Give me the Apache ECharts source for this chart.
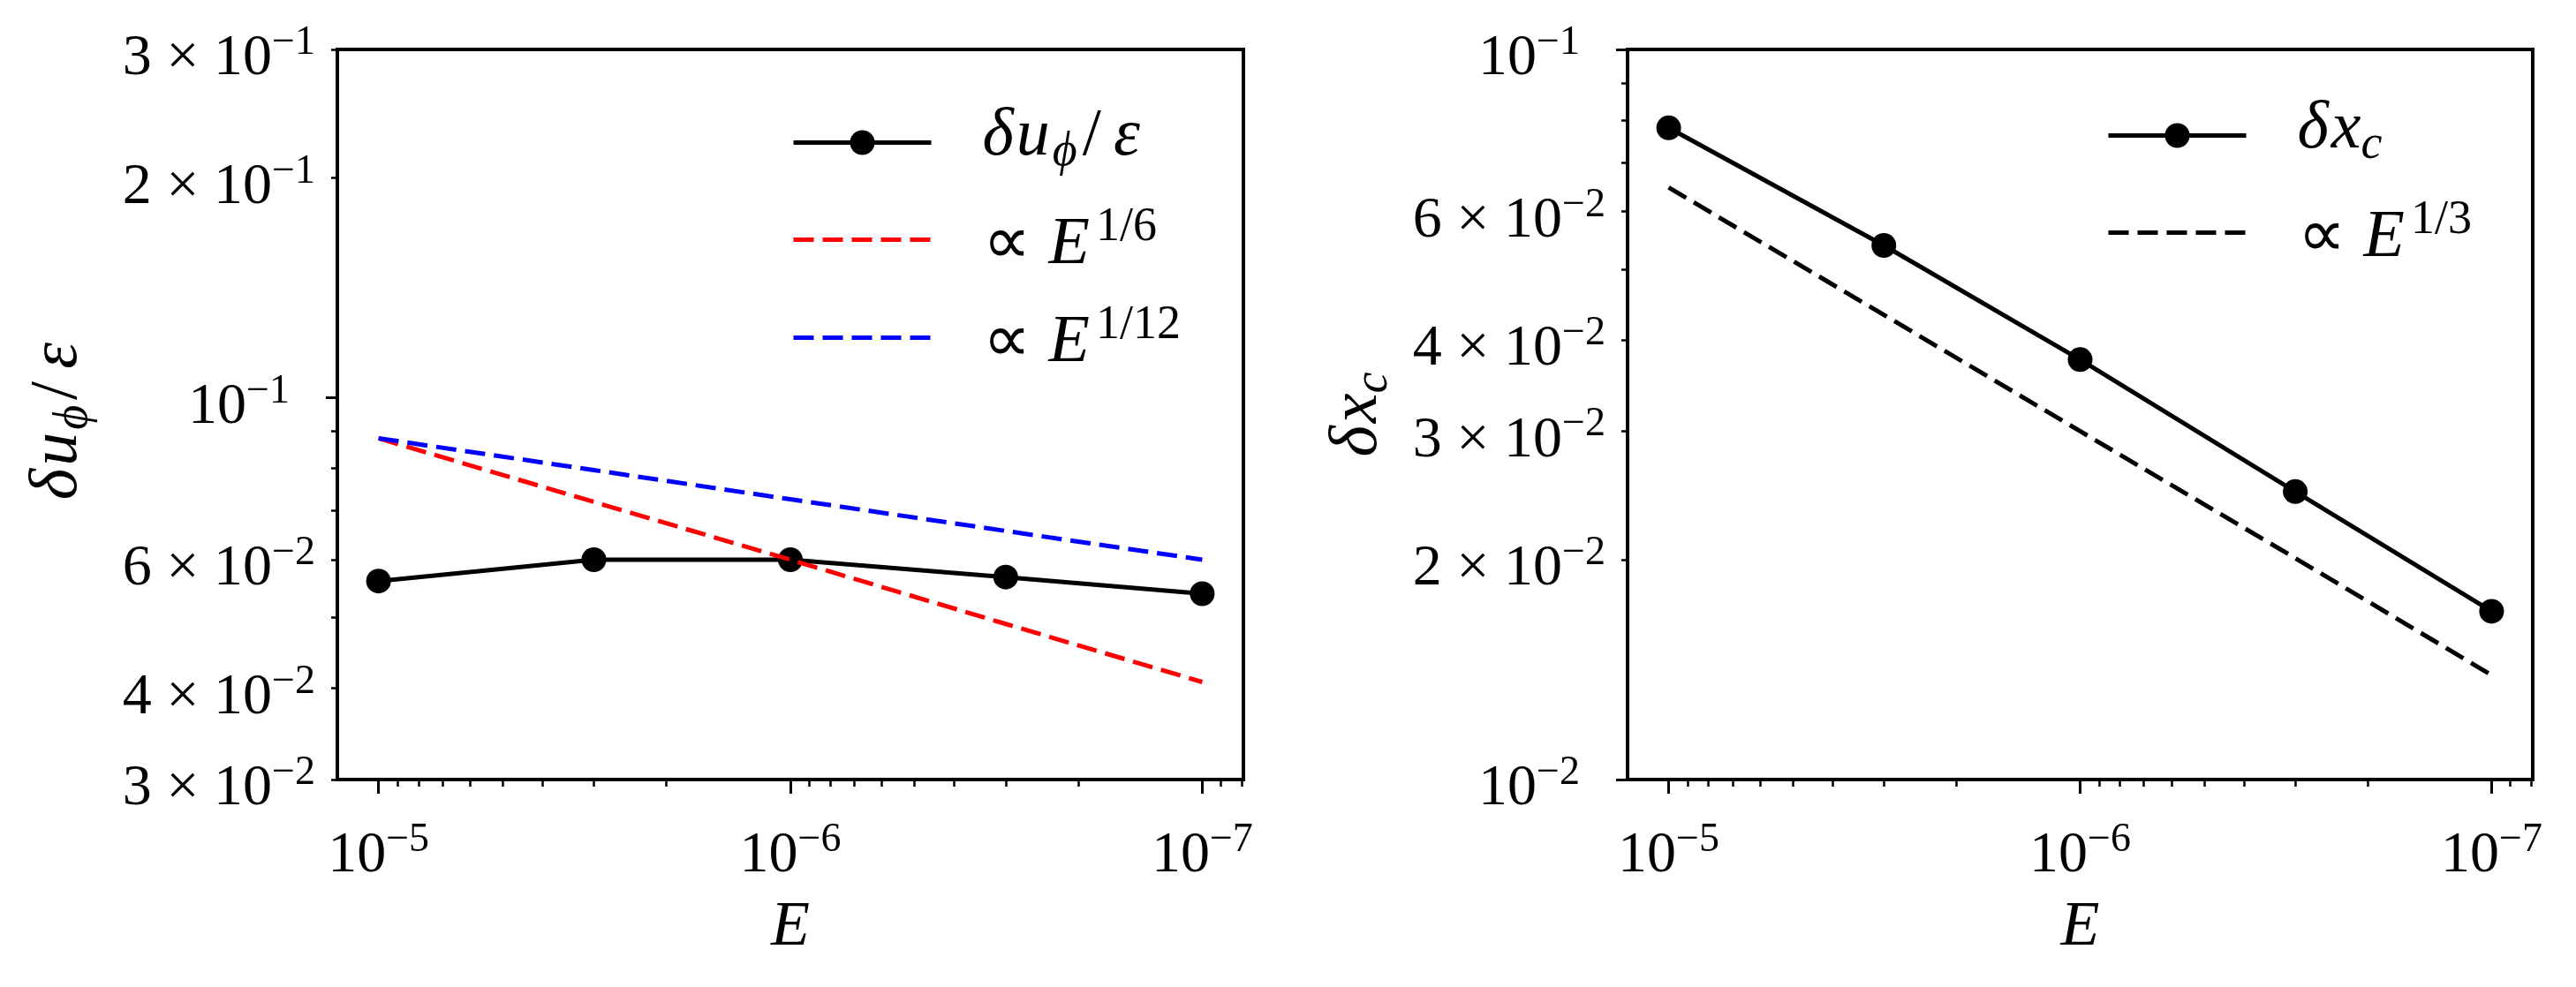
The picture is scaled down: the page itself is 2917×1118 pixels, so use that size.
<!DOCTYPE html>
<html>
<head>
<meta charset="utf-8">
<script src="https://cdn.jsdelivr.net/npm/echarts@6/dist/echarts.min.js"></script>
<style>
html,body{margin:0;padding:0;background:#fff;}
#chart{width:2917px;height:1118px;}
</style>
</head>
<body>
<div id="chart"></div>
<script>
// ---------------- data ----------------
const E = [1e-5, 3e-6, 1e-6, 3e-7, 1e-7];
const duPhi = [0.0561, 0.0600, 0.0600, 0.0568, 0.0539];
const fitE16 = [0.0880, 0.0720, 0.0600, 0.0490, 0.0408];
const fitE112 = [0.0880, 0.0796, 0.0726, 0.0657, 0.0600];
const dxc = [0.0781, 0.0539, 0.0376, 0.0248, 0.0170];
const fitE13 = [0.0647, 0.0433, 0.0300, 0.0201, 0.0139];

const xMajorTicks = [1e-5, 1e-6, 1e-7];
const xTickLabels = ['10^−5', '10^−6', '10^−7'];
const xMinorTicks = [9e-6, 8e-6, 7e-6, 6e-6, 5e-6, 4e-6, 3e-6, 2e-6,
                     9e-7, 8e-7, 7e-7, 6e-7, 5e-7, 4e-7, 3e-7, 2e-7, 9e-8, 8e-8];

const leftYMajorTicks = [0.1];
const leftYMinorTicks = [0.03, 0.04, 0.05, 0.06, 0.07, 0.08, 0.09, 0.2, 0.3];
const leftYLabelValues = [0.03, 0.04, 0.06, 0.1, 0.2, 0.3];
const leftYLabels = ['3 × 10^−2', '4 × 10^−2', '6 × 10^−2', '10^−1', '2 × 10^−1', '3 × 10^−1'];

const rightYMajorTicks = [0.01, 0.1];
const rightYMinorTicks = [0.02, 0.03, 0.04, 0.05, 0.06, 0.07, 0.08, 0.09];
const rightYLabelValues = [0.01, 0.02, 0.03, 0.04, 0.06, 0.1];
const rightYLabels = ['10^−2', '2 × 10^−2', '3 × 10^−2', '4 × 10^−2', '6 × 10^−2', '10^−1'];

const seriesNames = ['δuϕ/ε', '∝ E1/6', '∝ E1/12', 'δxc', '∝ E1/3'];
const legendRichText = {
  'δuϕ/ε': '{gA| }{m|δ}{m|u}{sub|ϕ}{r|/}{m|ε}',
  '∝ E1/6': '{gB| }{r0|∝ }{m|E}{sup|1/6}',
  '∝ E1/12': '{gB| }{r0|∝ }{m|E}{sup|1/12}',
  'δxc': '{gA| }{m|δ}{m0|x}{sub0|c}',
  '∝ E1/3': '{gB| }{r0|∝ }{m|E}{sup|1/3}'
};
const leftYName = '{m|δ}{m|u}{sub|ϕ}{r|/}{m|ε}{e| }';
const rightYName = '{m|δ}{m0|x}{sub0|c}';

// ---------------- helpers ----------------
const SERIF = 'Liberation Serif';
function pairs(xs, ys) { return xs.map((x, i) => [x, ys[i]]); }
function findLabel(value, values, labels) {
  for (let i = 0; i < values.length; i++) {
    if (Math.abs(Math.log10(value / values[i])) < 1e-6) return labels[i];
  }
  return '';
}
function richTick(lbl, isY) {
  const parts = lbl.split('^');
  const pure = parts[0] === '10';
  return '{b|' + parts[0] + '}{s|' + parts[1] + '}' + (isY && pure ? '{sp| }' : '');
}
const tickRich = {
  b: {fontFamily: SERIF, fontSize: 66, lineHeight: 66, color: '#000', verticalAlign: 'top', padding: [11, 0, 0, 0]},
  s: {fontFamily: SERIF, fontSize: 46, lineHeight: 46, color: '#000', verticalAlign: 'top', padding: [3, 0, 0, 0]},
  sp: {fontFamily: SERIF, fontSize: 46, lineHeight: 46, width: 29}
};
function mathRich(T, lh) {
  const F = 76, f = 54;
  return {
    gA: {fontFamily: SERIF, fontSize: F, lineHeight: 125, width: 53, verticalAlign: 'top'},
    gB: {fontFamily: SERIF, fontSize: F, lineHeight: 99, width: 53, verticalAlign: 'top'},
    e:  {fontFamily: SERIF, fontSize: F, lineHeight: lh, width: 12, verticalAlign: 'top'},
    m:  {fontFamily: SERIF, fontStyle: 'italic', fontSize: F, lineHeight: lh, color: '#000', verticalAlign: 'top', padding: [T, 3, 0, 0]},
    m0: {fontFamily: SERIF, fontStyle: 'italic', fontSize: F, lineHeight: lh, color: '#000', verticalAlign: 'top', padding: [T, 0, 0, 0]},
    r:  {fontFamily: SERIF, fontSize: F, lineHeight: lh, color: '#000', verticalAlign: 'top', padding: [T, 14, 0, 0]},
    r0: {fontFamily: SERIF, fontSize: F, lineHeight: lh, color: '#000', verticalAlign: 'top', padding: [T, 2, 0, 0]},
    sup: {fontFamily: SERIF, fontSize: f, lineHeight: 1, color: '#000', verticalAlign: 'top', padding: [T - 9.5, 0, 0, 4]},
    sub: {fontFamily: SERIF, fontStyle: 'italic', fontSize: f, lineHeight: 1, color: '#000', verticalAlign: 'top', padding: [T + 28.5, 6, 0, 0]},
    sub0: {fontFamily: SERIF, fontStyle: 'italic', fontSize: f, lineHeight: 1, color: '#000', verticalAlign: 'top', padding: [T + 28.5, 0, 0, 0]}
  };
}
const legendRich = mathRich(18.5, 1);
const nameRich = mathRich(10, 72);

const XMIN = Math.pow(10, -7.1), XMAX = Math.pow(10, -4.9);

function xAxesFor(g) {
  return [
    {type: 'log', logBase: 10, gridIndex: g, position: 'bottom', inverse: true, min: XMIN, max: XMAX,
     axisLine: {show: false}, splitLine: {show: false}, minorTick: {show: false},
     axisTick: {show: true, inside: false, customValues: xMajorTicks, length: 16, lineStyle: {color: '#000', width: 3}},
     axisLabel: {show: true, customValues: xMajorTicks, margin: 43, color: '#000',
       formatter: v => richTick(findLabel(v, xMajorTicks, xTickLabels), false), rich: tickRich},
     name: 'E', nameLocation: 'middle', nameGap: 132, nameMoveOverlap: false,
     nameTextStyle: {fontFamily: SERIF, fontStyle: 'italic', fontSize: 72, color: '#000'}},
    {type: 'log', logBase: 10, gridIndex: g, position: 'bottom', inverse: true, min: XMIN, max: XMAX,
     axisLine: {show: false}, splitLine: {show: false}, axisLabel: {show: false},
     axisTick: {show: true, inside: false, customValues: xMinorTicks, length: 8, lineStyle: {color: '#000', width: 2.5}}}
  ];
}
function yAxesFor(g, ymin, ymax, major, minor, lv, lb, nm, gap) {
  return [
    {type: 'log', logBase: 10, gridIndex: g, position: 'left', min: ymin, max: ymax,
     axisLine: {show: false}, splitLine: {show: false}, minorTick: {show: false},
     axisTick: {show: true, inside: false, customValues: major, length: 13, lineStyle: {color: '#000', width: 3}},
     axisLabel: {show: true, customValues: lv, margin: 25, color: '#000',
       formatter: v => richTick(findLabel(v, lv, lb), true), rich: tickRich},
     name: nm, nameLocation: 'middle', nameRotate: 90, nameGap: gap, nameMoveOverlap: false,
     nameTextStyle: {rich: nameRich}},
    {type: 'log', logBase: 10, gridIndex: g, position: 'left', min: ymin, max: ymax,
     axisLine: {show: false}, splitLine: {show: false}, axisLabel: {show: false},
     axisTick: {show: true, inside: false, customValues: minor, length: 7, lineStyle: {color: '#000', width: 2.5}}}
  ];
}
function legendFor(name, left, top, dashed) {
  const item = {name: name};
  if (dashed) item.itemStyle = {opacity: 0, color: 'rgba(0,0,0,0)', borderWidth: 0};
  return {orient: 'vertical', left: left, top: top, padding: 0, itemGap: 0, itemWidth: 156, itemHeight: 35,
    selectedMode: false, lineStyle: {width: 5}, data: [item],
    formatter: n => legendRichText[n], textStyle: {rich: legendRich, color: '#000'}};
}

const chart = echarts.init(document.getElementById('chart'), null, {renderer: 'canvas'});
chart.setOption({
  animation: false,
  backgroundColor: '#fff',
  grid: [
    {left: 382, top: 56, width: 1026, height: 827, show: true, borderColor: '#000', borderWidth: 4, backgroundColor: 'rgba(0,0,0,0)', containLabel: false, outerBoundsMode: 'none'},
    {left: 1843, top: 56, width: 1025, height: 827, show: true, borderColor: '#000', borderWidth: 4, backgroundColor: 'rgba(0,0,0,0)', containLabel: false, outerBoundsMode: 'none'}
  ],
  xAxis: xAxesFor(0).concat(xAxesFor(1)),
  yAxis: yAxesFor(0, 0.029995, 0.30002, leftYMajorTicks, leftYMinorTicks, leftYLabelValues, leftYLabels, leftYName, 292)
    .concat(yAxesFor(1, 0.009999, 0.10001, rightYMajorTicks, rightYMinorTicks, rightYLabelValues, rightYLabels, rightYName, 281)),
  legend: [
    legendFor(seriesNames[0], 896, 99, false),
    legendFor(seriesNames[1], 896, 222, true),
    legendFor(seriesNames[2], 896, 333, true),
    legendFor(seriesNames[3], 2385, 91, false),
    legendFor(seriesNames[4], 2385, 214, true)
  ],
  series: [
    {name: seriesNames[0], type: 'line', xAxisIndex: 0, yAxisIndex: 0, data: pairs(E, duPhi),
     symbol: 'circle', symbolSize: 28, itemStyle: {color: '#000', borderWidth: 0},
     lineStyle: {color: '#000', width: 5}, emphasis: {disabled: true}, silent: true, z: 2},
    {name: seriesNames[1], type: 'line', xAxisIndex: 0, yAxisIndex: 0, data: pairs(E, fitE16),
     symbol: 'none', itemStyle: {color: '#ff0000'},
     lineStyle: {color: '#ff0000', width: 5, type: [23, 10]}, emphasis: {disabled: true}, silent: true, z: 3},
    {name: seriesNames[2], type: 'line', xAxisIndex: 0, yAxisIndex: 0, data: pairs(E, fitE112),
     symbol: 'none', itemStyle: {color: '#0000ff'},
     lineStyle: {color: '#0000ff', width: 5, type: [23, 10]}, emphasis: {disabled: true}, silent: true, z: 4},
    {name: seriesNames[3], type: 'line', xAxisIndex: 2, yAxisIndex: 2, data: pairs(E, dxc),
     symbol: 'circle', symbolSize: 28, itemStyle: {color: '#000', borderWidth: 0},
     lineStyle: {color: '#000', width: 5}, emphasis: {disabled: true}, silent: true, z: 2},
    {name: seriesNames[4], type: 'line', xAxisIndex: 2, yAxisIndex: 2, data: pairs(E, fitE13),
     symbol: 'none', itemStyle: {color: '#000'},
     lineStyle: {color: '#000', width: 5, type: [23, 10]}, emphasis: {disabled: true}, silent: true, z: 3}
  ]
});
</script>
</body>
</html>
